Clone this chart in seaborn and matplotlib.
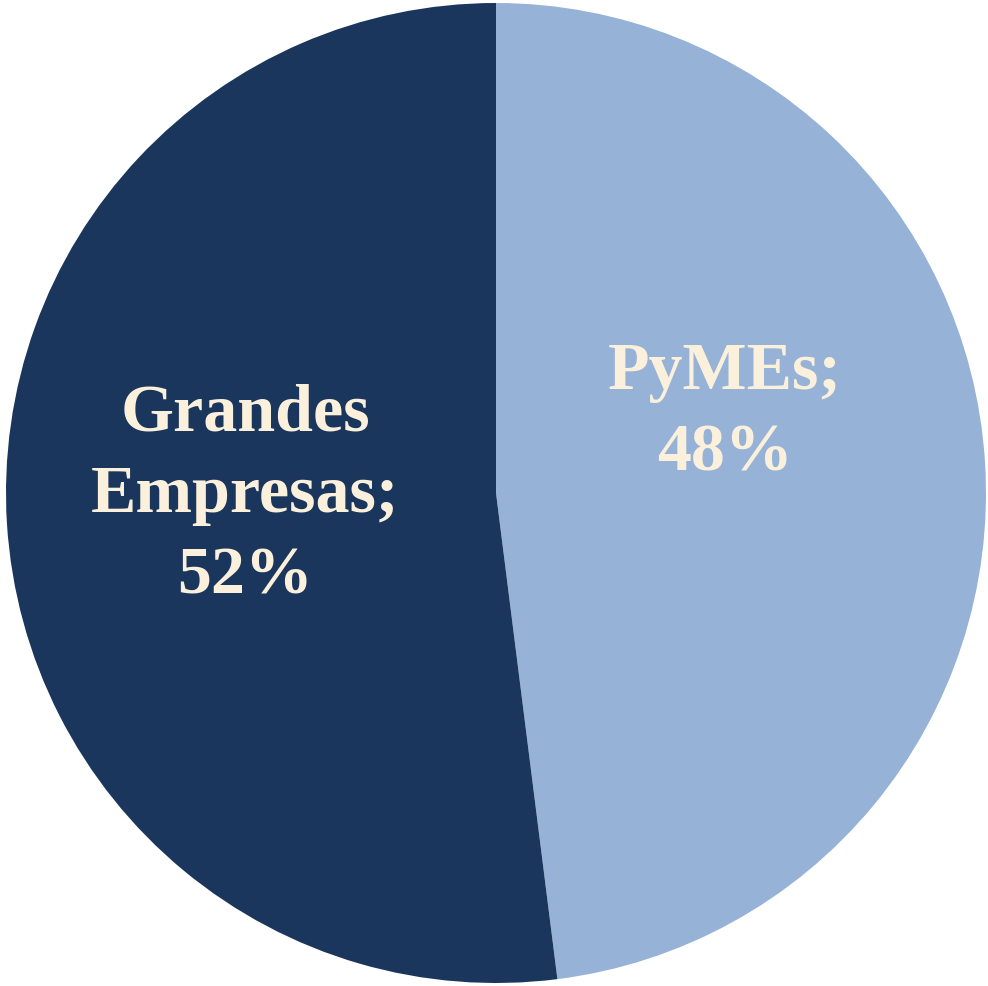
import matplotlib
matplotlib.use("Agg")
import matplotlib.pyplot as plt
import seaborn as sns

# data
labels = ["PyMEs", "Grandes\nEmpresas"]
values = [48, 52]
colors = ["#96B3D7", "#1A365D"]
text_color = "#FAF0DC"

sns.set_style("white")
plt.rcParams["font.family"] = ["Liberation Serif", "DejaVu Serif"]

fig = plt.figure(figsize=(9.88, 9.86), dpi=100)
ax = fig.add_axes([6 / 988, 3 / 986, 980 / 988, 980 / 986])

wedges, _ = ax.pie(values, colors=colors, startangle=90, counterclock=False,
                   radius=1, wedgeprops=dict(linewidth=0))
ax.set_xlim(-1, 1)
ax.set_ylim(-1, 1)
ax.set_aspect("equal")
ax.axis("off")

# label spots, roughly where the original puts them
spots = [(0.467, 0.163), (-0.512, -0.005)]
for lab, val, (x, y) in zip(labels, values, spots):
    ax.text(x, y, f"{lab};\n{val}%", ha="center", va="center",
            color=text_color, fontsize=49, fontweight="bold", linespacing=1.44)

fig.savefig("out.png", dpi=100)
